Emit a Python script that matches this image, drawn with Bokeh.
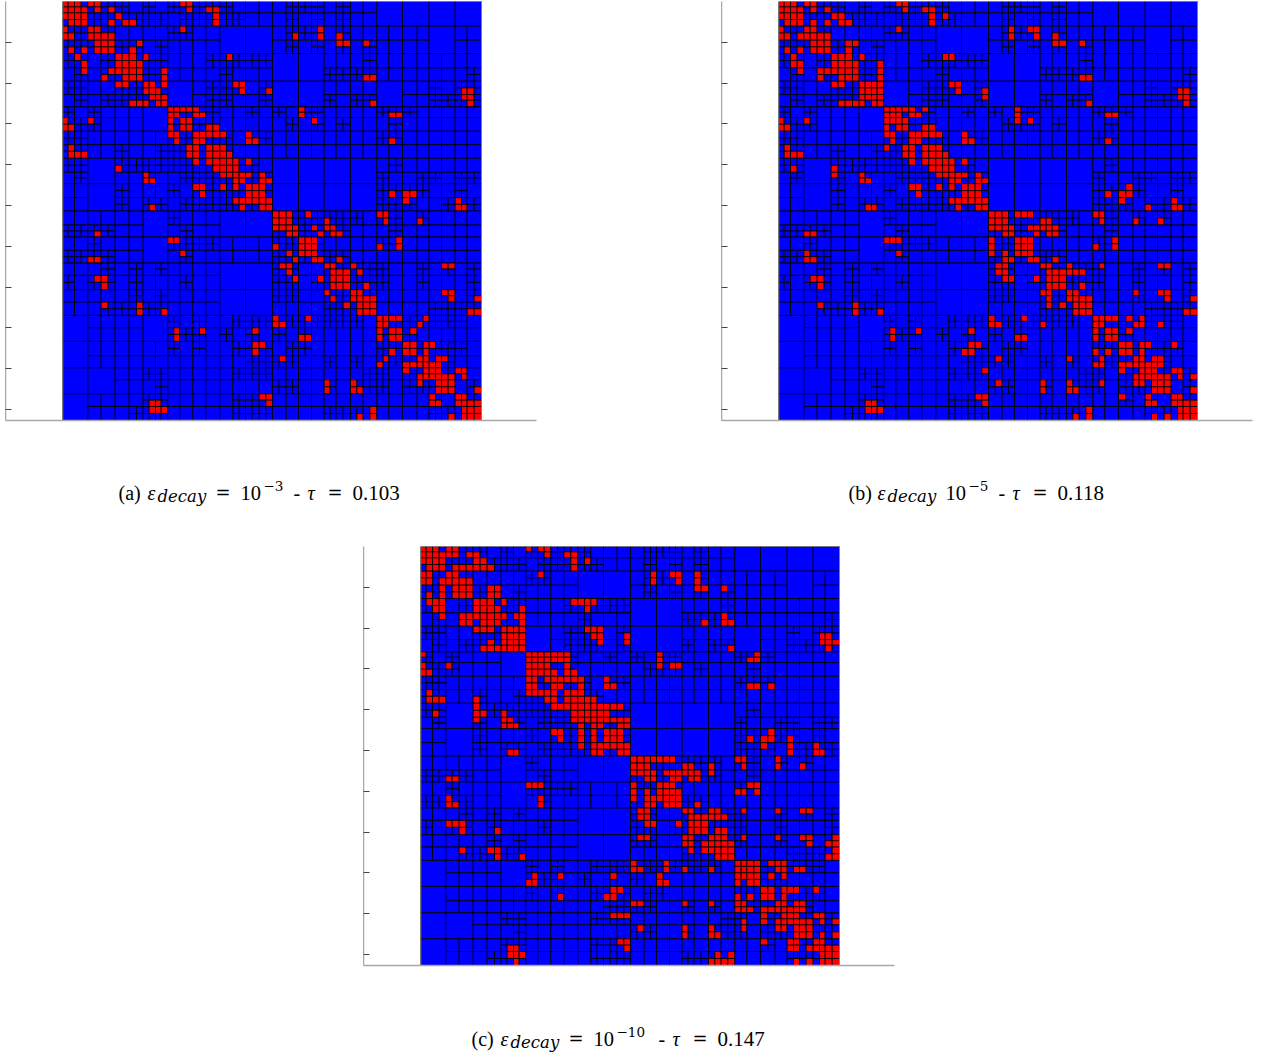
from bokeh.plotting import figure
from bokeh.layouts import column, row
from bokeh.models import Range1d, FixedTicker, ColumnDataSource, Spacer
from bokeh.core.properties import value
from bokeh.embed import file_html
from bokeh.resources import INLINE

# cluster boundaries of the block tree (matrix index)
col_edges = [7,23,42,62,82,101,122,143,164,185,206,228,248,266,285,302,322,340,358,377,397,417,436,457,478,498,517,536,555,575,596,616,636,656,677,696,714,734,753,771,791,809,827,848,870,889,908,928,949,968,985,1006,1026,1048,1070,1088,1106,1125,1143,1163,1184,1203,1220,1241,1263]
row_edges = [4,20,38,58,78,98,120,140,160,181,203,223,243,263,283,300,320,336,352,372,393,413,433,453,474,495,516,533,550,571,592,612,632,653,674,692,710,730,750,769,788,806,825,846,868,886,905,925,945,963,982,1002,1023,1044,1066,1084,1102,1120,1138,1159,1180,1199,1218,1239,1260]
y_ticks = [123,245,367,489,612,734,856,978,1100,1222]

# block structure: '.' = whole block, hex digit = which quadrants are further split
partition = [
"FFDDBFD0ABA0....",
"FFC830..ABA800.0",
"BAFF0273..CE0008",
"B8FF.A7A..4C.0DF",
"D50.FF019B80B100",
"F048FF5300003000",
"B.37BFFD....684C",
"0.5C9FFF....F78D",
"CC0.90..FFF1B000",
"CD0.B300FFC00000",
"4EA280..F8FF5A2A",
"08EE00..30FF00EE",
".00.D5677731F731",
".000112FE144FFF1",
"..0B0023C04E5FF9",
".08D00AF00CC00DF",
]

# red (full rank) cells, per row, panel (a)
red_a = [
[0,1,2,4,5,18,19],[0,1,2,3,5,7,19,22,23],[0,1,2,3,8,23],[1,2,3,7,9,10,23],
[0,4,5,18,39],[0,1,4,5,6,7,35,39,42],[5,6,7,11,42,43,46],[1,3,5,6,7,10],
[2,8,9,10,12,25],[3,8,9,10,11],[3,7,8,9,10,11,15],[6,9,10,11,15,46,47],
[8,9,12,13,15,26,27],[12,13,14,27,31,61,62],[13,14,15,61,62],[10,11,12,14,15,47,62],
[16,17,18,19,20,36],[16,17,20,21,36,50,51],[0,4,16,18,19,38],[0,1,16,18,19,22,23],
[16,17,20,21,22,23,24,28],[17,20,21,28,29,50],[1,19,20,22,23,24],[1,2,3,19,20,22,23,24,25],
[20,22,23,24,25,26,28],[8,23,24,25,26],[12,24,25,26,27,28,30],[12,13,26,27,30,31],
[20,21,24,26,28,29,30],[21,28,29,30,50,52,53],[26,27,28,29,30,31,52,60],[13,27,30,31,60,61],
[32,33,34,37,48,49],[32,33,34,40,49,54],[32,33,34,35,38,40,41],[5,34,35,39,41,42],
[16,17,36,37,38,51],[32,36,37,38,48,51],[18,34,36,37,38],[4,5,35,38,39,42],
[33,34,40,41,44,58,59],[34,41,42,43,45],[5,6,35,39,41,42,43],[6,41,42,43,46],
[40,44,45,58,59],[41,44,45,46,47,59,63],[6,11,43,45,46,47],[11,15,45,46,47,62,63],
[32,37,48,49,50,51,55],[32,33,48,49,54],[17,21,29,48,50,51,53],[17,36,37,48,50,51],
[29,30,52,53,55,56],[29,50,52,53,55],[33,49,54,55,57,58],[48,52,53,54,55,56,57],
[52,55,56,57,60,61],[54,55,56,57,58,59,61],[40,44,54,57,58,59],[40,44,45,57,58,59,63],
[30,31,56,60,61],[13,14,31,56,57,60,61,62,63],[13,14,15,47,61,62,63],[45,47,59,61,62,63],
]

# additional red cells in panel (b), beyond (a)
extra_b = {
2:[9,25],3:[5],4:[35,38],5:[3],6:[10],8:[26],9:[2,15],10:[6],12:[14],13:[15],14:[12,31],15:[9],
16:[22],17:[18],18:[17,36],22:[16],25:[2],26:[8],28:[53],31:[14,56],32:[36,38],33:[41,58],
34:[39,42],35:[4],36:[18,32],38:[4,32],39:[34],40:[49],41:[33,44,46],42:[34],44:[41,54],46:[41],
48:[53],49:[40,55,58],52:[60],53:[28,48],54:[44],55:[49,58],56:[31],57:[63],58:[33,49,55],60:[52],63:[57],
}

# additional red cells in panel (c), beyond (b)
extra_c = {
0:[16],1:[4,8],3:[6,8],4:[1,42],6:[3],7:[11],8:[1,3,23,24],9:[25],10:[12,14,46],11:[7,43],
12:[10,25],13:[26],14:[10,27,63],15:[13],16:[0,21,51],17:[19,22],18:[22,39],19:[17,20],20:[19],
21:[16,24,51,53],22:[17,18],23:[8,26],24:[8,21,27,29,30],25:[9,12,27,28],26:[13,23,29,31],
27:[14,24],29:[24,26,56],30:[24,56],31:[26],32:[35,54],33:[44],34:[37,44],35:[38],36:[50],
37:[34,39,49],38:[35,39],39:[18,37],40:[45,54],42:[4],43:[11,45],44:[33,34,46,49,63],45:[40,43,62],
46:[10,44,63],48:[54],49:[37,44,50,51,57],50:[36,49,55],51:[16],52:[57],53:[21],54:[32,40,48],
55:[50],56:[29,30],57:[49,52],59:[61],60:[57],61:[59],62:[45],63:[14,44,46],
}

captions = {
    "a": ["(a)", "10", "\u22123", "0.103"],
    "b": ["(b)", "10", "\u22125", "0.118"],
    "c": ["(c)", "10", "\u221210", "0.147"],
}

BLUE, RED = "#0000ff", "#ff0000"
SERIF = "Liberation Serif"
MATH = "DejaVu Serif"

xs = [v - col_edges[0] for v in col_edges]
ys = [v - row_edges[0] for v in row_edges]

def red_sets():
    a = [set(r) for r in red_a]
    b = [set(r) | set(extra_b.get(i, [])) for i, r in enumerate(a)]
    c = [set(r) | set(extra_c.get(i, [])) for i, r in enumerate(b)]
    return a, b, c

def leaves(reds):
    d = dict(left=[], right=[], top=[], bottom=[], color=[])
    def add(r, c, n):
        hot = n == 1 and c in reds[r]
        d["left"].append(xs[c]); d["right"].append(xs[c + n])
        d["top"].append(ys[r]); d["bottom"].append(ys[r + n])
        d["color"].append(RED if hot else BLUE)
    def has_red(r, c, n):
        return any(k in reds[i] for i in range(r, r + n) for k in range(c, c + n))
    for r in range(16):
        for c in range(16):
            ch = partition[r][c]
            r0, c0 = r * 4, c * 4
            if ch == "." and not has_red(r0, c0, 4):
                add(r0, c0, 4)
                continue
            mask = 0 if ch == "." else int(ch, 16)
            for q in range(4):
                qr, qc = r0 + 2 * (q >> 1), c0 + 2 * (q & 1)
                if (mask >> q) & 1 or has_red(qr, qc, 2):
                    for i in range(2):
                        for j in range(2):
                            add(qr + i, qc + j, 1)
                else:
                    add(qr, qc, 2)
    return d

def caption_fig(key, width, height, left, base):
    p = figure(width=width, height=height, output_backend="svg", toolbar_location=None,
               x_range=Range1d(0, width), y_range=Range1d(height, 0),
               min_border=0)
    p.axis.visible = False
    p.grid.visible = False
    p.outline_line_color = None
    paren, ten, exp, tau = captions[key]
    shift = -25 if key == "b" else 0
    extra = 12 if key == "c" else 0
    items = [(paren, 0, 0, 20, "normal", SERIF), ("\u03b5", 29, 0, 20, "italic", SERIF),
             ("decay", 39, 4, 16.5, "italic", MATH)]
    if key != "b":
        items.append(("=", 97, 0, 18, "normal", MATH))
    items += [(ten, 122 + shift, 0, 20.5, "normal", SERIF),
              (exp, 145 + shift, -7, 13.5, "normal", MATH),
              ("-", 175 + shift + extra, 0, 20, "normal", SERIF),
              ("\u03c4", 189 + shift + extra, 0, 20, "italic", SERIF),
              ("=", 209 + shift + extra, 0, 18, "normal", MATH),
              (tau, 234 + shift + extra, 0, 21, "normal", SERIF)]
    for text, dx, dy, size, style, font in items:
        p.text(x=[left + dx], y=[base + dy], text=[text], text_font=value(font),
               text_font_style=style, text_font_size=value(f"{size}px"), text_color="#000000",
               text_baseline="alphabetic", text_align="left")
    return p

def panel(reds, right):
    p = figure(frame_width=531, frame_height=419, output_backend="svg", toolbar_location=None,
               x_range=Range1d(-172, 1421), y_range=Range1d(1256, 0),
               min_border_left=0, min_border_top=0, min_border_right=right, min_border_bottom=2)
    p.grid.visible = False
    p.outline_line_color = None
    p.background_fill_color = "white"
    src = ColumnDataSource(leaves(reds))
    p.quad(left="left", right="right", top="top", bottom="bottom", source=src,
           fill_color="color", line_color="#000000", line_width=0.85)
    p.quad(left=[0], right=[1256], top=[0], bottom=[1256], fill_color=None,
           line_color="#808080", line_width=1)
    for ax in (p.xaxis[0], p.yaxis[0]):
        ax.axis_line_color = "#a8a8a8"
        ax.axis_line_width = 1.5
        ax.major_tick_out = 0
        ax.minor_tick_in = 0
        ax.minor_tick_out = 0
        ax.major_label_text_font_size = "0px"
        ax.major_label_standoff = 0
    p.xaxis[0].ticker = FixedTicker(ticks=[])
    p.yaxis[0].ticker = FixedTicker(ticks=y_ticks)
    p.yaxis[0].major_label_overrides = {t: "" for t in y_ticks}
    p.yaxis[0].major_tick_in = 6
    p.yaxis[0].major_tick_line_color = "#444444"
    return p

ra, rb, rc = red_sets()
pa = panel(ra, 185)
pb = panel(rb, 5)
pc = panel(rc, 5)
ca = caption_fig("a", 716, 124, 113, 70)
cb = caption_fig("b", 536, 124, 127, 70)
cc = caption_fig("c", 536, 92, 108, 71)

page = column(row(pa, pb), row(ca, cb),
              row(Spacer(width=358, height=10), pc), row(Spacer(width=358, height=10), cc),
              margin=(1, 0, 0, 5))
open("out.html", "w").write(file_html(page, INLINE))
